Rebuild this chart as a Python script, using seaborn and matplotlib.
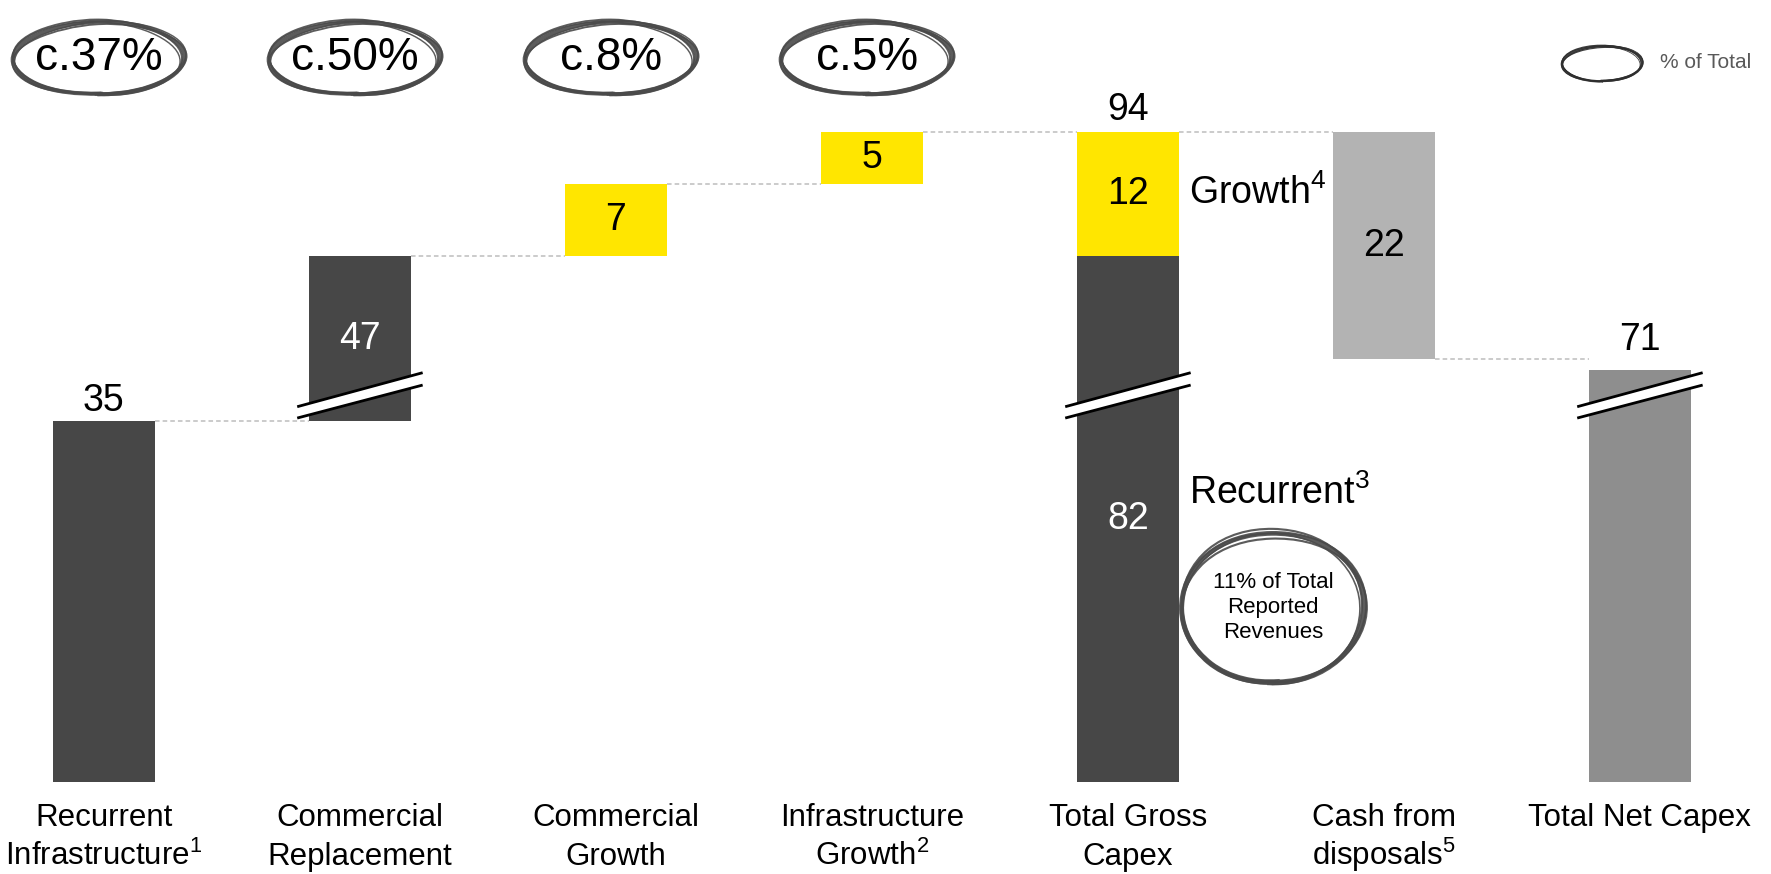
import numpy as np
import pandas as pd
import matplotlib
matplotlib.use("Agg")
import matplotlib.pyplot as plt
import matplotlib.transforms as mtransforms
from matplotlib.patches import Ellipse, Polygon
import seaborn as sns

# ---------------------------------------------------------------- data
categories = [
    "Recurrent\nInfrastructure$^{1}$",
    "Commercial\nReplacement",
    "Commercial\nGrowth",
    "Infrastructure\nGrowth$^{2}$",
    "Total Gross\nCapex",
    "Cash from\ndisposals$^{5}$",
    "Total Net Capex",
]
step_values = [35, 47, 7, 5]          # building blocks of gross capex
recurrent_total = 82
growth_total = 12
gross_total = 94
disposals = 22
net_total = 71
share_labels = ["c.37%", "c.50%", "c.8%", "c.5%"]
revenue_note = "11% of Total\nReported\nRevenues"

# ---------------------------------------------------------------- style
sns.set_theme(style="white")
plt.rcParams["font.family"] = ["Liberation Sans", "DejaVu Sans"]
plt.rcParams["mathtext.fontset"] = "custom"
plt.rcParams["mathtext.rm"] = "Liberation Sans"
plt.rcParams["mathtext.it"] = "Liberation Sans"
plt.rcParams["mathtext.default"] = "regular"

DARK = "#474747"
YELLOW = "#FFE600"
CASH = "#B3B3B3"
NET = "#8E8E8E"
BAR_W = 0.4

# broken value axis: the span just above BREAK_AT is cut out of the drawing
BREAK_AT = 35
HIDDEN = 31


def disp(v):
    return v if v <= BREAK_AT else v - HIDDEN


fig = plt.figure(figsize=(17.71, 8.74), dpi=100)
ax = fig.add_axes([0, 0, 1, 1])

# ---------------------------------------------------------------- segments
starts = np.concatenate([[0], np.cumsum(step_values)[:-1]])
ends = np.cumsum(step_values)
step_colors = [DARK, DARK, YELLOW, YELLOW]
rows = []
for i, (lo, hi) in enumerate(zip(starts, ends)):
    rows.append((categories[i], lo, hi, step_colors[i]))
rows.append((categories[4], 0, recurrent_total, DARK))
rows.append((categories[4], recurrent_total, recurrent_total + growth_total, YELLOW))
rows.append((categories[5], gross_total - disposals, gross_total, CASH))
rows.append((categories[6], 0, net_total, NET))
segments = pd.DataFrame(rows, columns=["category", "low", "high", "color"])

for seg in segments.itertuples():
    d = pd.DataFrame({"category": [seg.category],
                      "height": [disp(seg.high) - disp(seg.low)]})
    sns.barplot(data=d, x="category", y="height", order=categories,
                bottom=disp(seg.low), color=seg.color, saturation=1,
                width=BAR_W, linewidth=0, errorbar=None, ax=ax)

# ---------------------------------------------------------------- axes frame
px_per_unit = 10.31
ax.set_xlim(-0.406, -0.406 + 1771 / 256)
ax.set_ylim(-(874 - 782) / px_per_unit, 782 / px_per_unit)
ax.axis("off")

# ---------------------------------------------------------------- connectors
conn_color = "#BDBDBD"
levels = [(0, disp(ends[0])), (1, disp(ends[1])), (2, disp(ends[2])),
          (3, disp(gross_total)), (4, disp(gross_total)),
          (5, disp(gross_total - disposals))]
for i, lvl in levels:
    ax.plot([i + BAR_W / 2, i + 1 - BAR_W / 2], [lvl, lvl], color=conn_color,
            lw=1.1, ls=(0, (3, 2)), zorder=1)

# ---------------------------------------------------------------- axis break marks
def break_mark(x):
    x0, x1 = x - BAR_W / 2 - 0.045, x + BAR_W / 2 + 0.045
    lo0, lo1 = BREAK_AT + 0.3, BREAK_AT + 3.5
    up0, up1 = BREAK_AT + 1.4, BREAK_AT + 4.7
    ax.add_patch(Polygon([(x0, lo0), (x1, lo1), (x1, up1), (x0, up0)],
                         closed=True, fc="white", ec="none", zorder=4))
    ax.plot([x0, x1], [lo0, lo1], color="black", lw=2, zorder=5,
            solid_capstyle="butt")
    ax.plot([x0, x1], [up0, up1], color="black", lw=2, zorder=5,
            solid_capstyle="butt")


for i, cat in enumerate(categories):
    segs = segments[segments["category"] == cat]
    if ((segs["low"] <= BREAK_AT) & (segs["high"] >= BREAK_AT + HIDDEN)).any():
        break_mark(i)

# ---------------------------------------------------------------- value labels
VAL_FS = 27
ax.text(0, disp(ends[0]) + 2.0, f"{step_values[0]}", ha="center", va="center",
        fontsize=VAL_FS, color="black")
ax.text(1, (disp(starts[1]) + disp(ends[1])) / 2, f"{step_values[1]}",
        ha="center", va="center", fontsize=VAL_FS, color="white", zorder=6)
for i in (2, 3):
    ax.text(i, (disp(starts[i]) + disp(ends[i])) / 2, f"{step_values[i]}",
            ha="center", va="center", fontsize=VAL_FS, color="black")
ax.text(4, disp(recurrent_total) / 2, f"{recurrent_total}", ha="center",
        va="center", fontsize=VAL_FS, color="white")
ax.text(4, (disp(recurrent_total) + disp(gross_total)) / 2, f"{growth_total}",
        ha="center", va="center", fontsize=VAL_FS, color="black")
ax.text(4, disp(gross_total) + 2.2, f"{gross_total}", ha="center", va="center",
        fontsize=VAL_FS, color="black")
ax.text(5, (disp(gross_total) + disp(gross_total - disposals)) / 2,
        f"{disposals}", ha="center", va="center", fontsize=VAL_FS, color="black")
ax.text(6, disp(net_total) + 2.9, f"{net_total}", ha="center", va="center",
        fontsize=VAL_FS, color="black")

ax.text(4.24, disp(recurrent_total + growth_total / 2) + 0.1, "Growth$^{4}$",
        ha="left", va="center", fontsize=VAL_FS, color="black")
ax.text(4.24, 28.0, "Recurrent$^{3}$", ha="left", va="center",
        fontsize=VAL_FS, color="black")

# ---------------------------------------------------------------- category labels
LINE_BASELINES = [-4.27, -8.05]
for i, cat in enumerate(categories):
    for line, yb in zip(cat.split("\n"), LINE_BASELINES):
        ax.text(i, yb, line, ha="center", va="baseline", fontsize=22.5,
                color="black")

# ---------------------------------------------------------------- hand-drawn rings
# (dx, dy, width scale, height scale, angle, line width factor)
STROKES = [
    (0.000, 0.000, 1.000, 1.000, 1.0, 1.00),
    (0.006, -0.015, 1.015, 0.960, 2.5, 0.45),
    (-0.006, 0.015, 0.985, 1.030, -1.0, 0.45),
    (0.010, 0.008, 1.000, 0.985, 3.0, 0.35),
    (-0.012, -0.006, 0.975, 1.010, -2.0, 0.35),
]


def ring(x, y, w_in, h_in, lw=3.0, color="#4a4a4a"):
    trans = fig.dpi_scale_trans + mtransforms.ScaledTranslation(x, y, ax.transData)
    for dx, dy, sw, sh, ang, lwf in STROKES:
        e = Ellipse((dx * w_in, dy * h_in), w_in * sw, h_in * sh, angle=ang,
                    fill=False, lw=lw * lwf, ec=color, alpha=0.9,
                    transform=trans, zorder=7)
        e.set_sketch_params(scale=0.6, length=150, randomness=2)
        ax.add_patch(e)


for i, lab in enumerate(share_labels):
    ring(i - 0.02, 70.2, 1.72, 0.72)
    ax.text(i - 0.02, 70.2, lab, ha="center", va="center", fontsize=33,
            color="black")

ring(5.85, 69.7, 0.80, 0.35, lw=1.8, color="#2e2e2e")
ax.text(6.08, 69.8, "% of Total", ha="left", va="center", fontsize=15,
        color="#595959")

ring(4.566, 16.9, 1.84, 1.50, lw=3.4)
ax.text(4.566, 16.9, revenue_note, ha="center", va="center", fontsize=16,
        color="black", linespacing=1.25, multialignment="center")

fig.savefig("out.png", dpi=100)
